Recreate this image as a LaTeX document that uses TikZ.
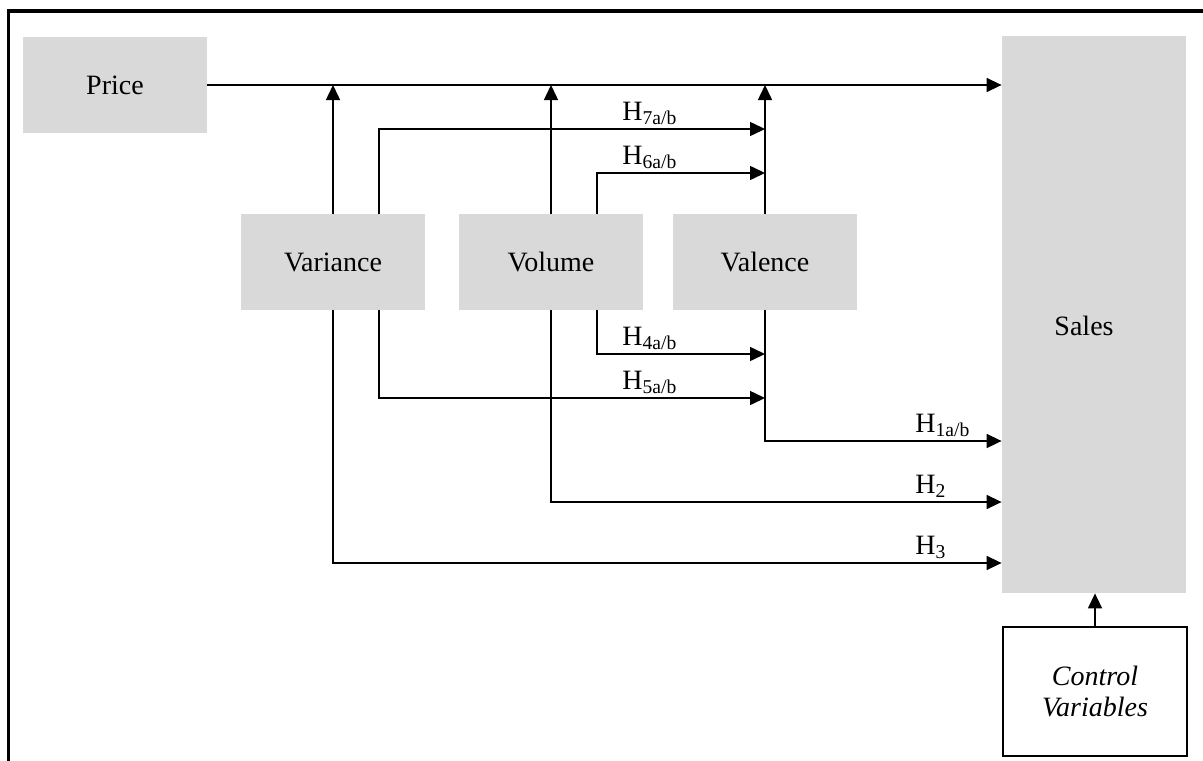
\documentclass[tikz,border=0pt]{standalone}
\usepackage{fontspec}
\setmainfont{Liberation Serif}
\usetikzlibrary{arrows.meta}
\tikzset{
  gbox/.style={fill=boxgray, draw=none, minimum width=92pt, minimum height=48pt, inner sep=0pt, font=\fontsize{14}{16}\selectfont},
  cbox/.style={fill=white, draw=black, line width=1pt, minimum width=92pt, minimum height=64.5pt, inner sep=0pt, align=center, font=\fontsize{14}{15.5}\selectfont\itshape},
  arr/.style={line width=0.75pt, -{Triangle[length=7.5pt,width=7pt]}},
  hlab/.style={anchor=south west, inner sep=1pt, font=\fontsize{14}{16}\selectfont},
}
\definecolor{boxgray}{HTML}{D9D9D9}
\newcommand{\hs}[1]{H\textsubscript{#1}}
\begin{document}
\begin{tikzpicture}[x=0.5pt,y=-0.5pt]
\useasboundingbox (0,0) rectangle (1203,760);
\clip (0,0) rectangle (1203,760);
\fill[white] (0,0) rectangle (1203,760);
\draw[line width=1.6pt] (8.5,800) -- (8.5,11) -- (1240,11);

\node[gbox] (price) at (115,85) {Price};
\node[gbox, minimum height=278.5pt] (sales) at (1094,314.5) {};
\node[font=\fontsize{14}{16}\selectfont] (salestxt) at (1084,326) {Sales};
\node[gbox] (variance) at (333,262) {Variance};
\node[gbox] (volume) at (551,262) {Volume};
\node[gbox] (valence) at (765,262) {Valence};
\node[cbox] (control) at (1095,691.5) {Control\\Variables};

\coordinate (y7) at (0,129);
\coordinate (y6) at (0,173);
\coordinate (y4) at (0,354);
\coordinate (y5) at (0,398);
\coordinate (y1) at (0,441);
\coordinate (y2) at (0,502);
\coordinate (y3) at (0,563);

\coordinate (varA) at ([xshift=23pt]variance.north);
\coordinate (varB) at ([xshift=23pt]variance.south);
\coordinate (volA) at ([xshift=23pt]volume.north);
\coordinate (volB) at ([xshift=23pt]volume.south);

\draw[arr] (price.east) -- (price.east -| sales.west);
\draw[arr] (variance.north) -- (variance.north |- price.east);
\draw[arr] (volume.north) -- (volume.north |- price.east);
\draw[arr] (valence.north) -- (valence.north |- price.east);

\draw[arr] (varA) |- (valence.north |- y7);
\draw[arr] (volA) |- (valence.north |- y6);
\draw[arr] (volB) |- (valence.south |- y4);
\draw[arr] (varB) |- (valence.south |- y5);
\draw[arr] (valence.south) |- (sales.west |- y1);
\draw[arr] (volume.south) |- (sales.west |- y2);
\draw[arr] (variance.south) |- (sales.west |- y3);
\draw[arr] (control.north) -- (control.north |- sales.south);

\node[hlab] (h7) at (620,127) {\hs{7a/b}};
\node[hlab] (h6) at (620,171) {\hs{6a/b}};
\node[hlab] (h4) at (620,352) {\hs{4a/b}};
\node[hlab] (h5) at (620,396) {\hs{5a/b}};
\node[hlab] (h1) at (913,439) {\hs{1a/b}};
\node[hlab] (h2) at (913,500) {\hs{2}};
\node[hlab] (h3) at (913,561) {\hs{3}};
\end{tikzpicture}
\end{document}
